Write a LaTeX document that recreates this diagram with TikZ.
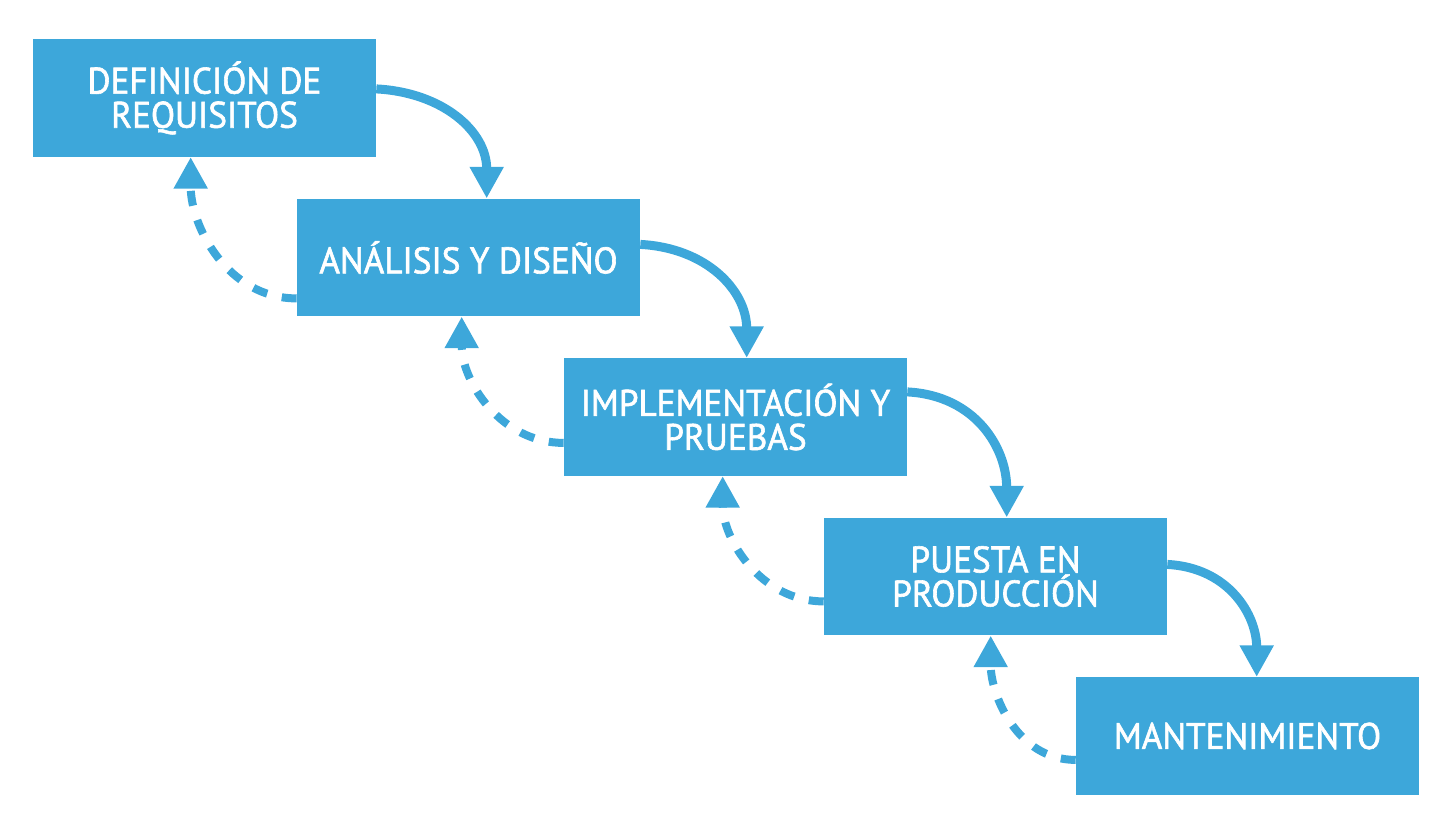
\documentclass[tikz,border=0pt]{standalone}
\usepackage{fontspec}
\usepackage{xcolor}
\usetikzlibrary{arrows.meta}
\newfontfamily\dinfont[FakeBold=1.6,FakeStretch=0.955]{PT Sans}
\definecolor{fasecolor}{RGB}{61,167,218}

\begin{document}
\begin{tikzpicture}
  [x=0.02cm,y=-0.02cm,
   stage/.style={fill=fasecolor,text=white,inner sep=0pt,
     minimum width=6.86cm,minimum height=2.35cm,align=center,
     font=\dinfont\fontsize{21}{19.4}\selectfont},
   forward/.style={draw=fasecolor,line width=0.18cm,
     -{Triangle[length=0.63cm,width=0.64cm]}},
   back/.style={forward,line width=0.16cm,dash pattern=on 0.3cm off 0.3cm}]
  \useasboundingbox (0,0) rectangle (1456,834);

  \node[stage] (req) at (204.5,98) {DEFINICIÓN DE\\REQUISITOS};
  \node[stage] (dis) at (468.5,257.5) {ANÁLISIS Y DISEÑO};
  \node[stage] (imp) at (735.5,417) {IMPLEMENTACIÓN Y\\PRUEBAS};
  \node[stage] (pro) at (995.5,576.5) {PUESTA EN\\PRODUCCIÓN};
  \node[stage] (man) at (1247.5,736) {MANTENIMIENTO};

  \foreach \from/\to/\s/\t/\d/\e in {req/dis/50/190/100/158, dis/imp/46/183/85/165,
      imp/pro/34/183/84/159, pro/man/47/181/83/167}
  {
    \draw[forward] ([yshift=-\s*0.02cm]\from.north east) to[out=-3,in=90,looseness=1.1] ([xshift=\t*0.02cm]\to.north west);
    \draw[back] ([yshift=-\d*0.02cm]\to.north west) to[out=180,in=-90] ([xshift=\e*0.02cm]\from.south west);
  }

\end{tikzpicture}
\end{document}
